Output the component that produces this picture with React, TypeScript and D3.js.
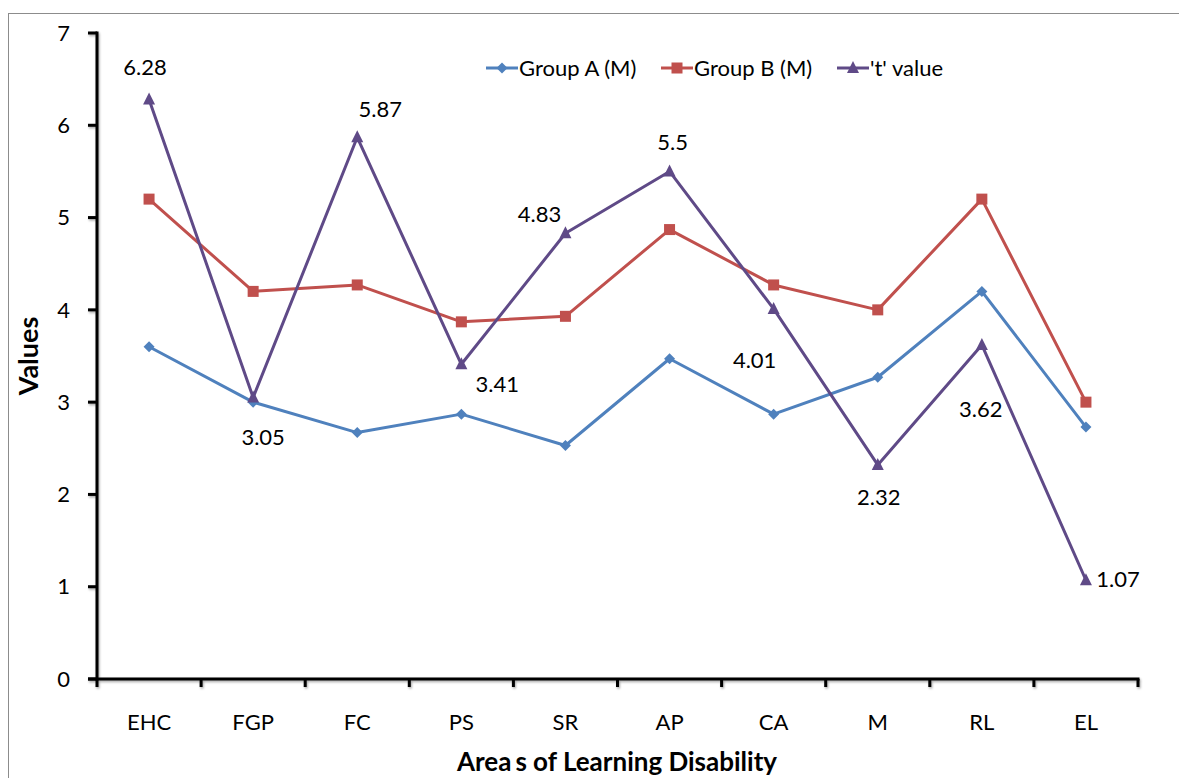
import React from "react";
import * as d3 from "d3";

const categories = ["EHC", "FGP", "FC", "PS", "SR", "AP", "CA", "M", "RL", "EL"];
const groupA = [3.6, 3.0, 2.67, 2.87, 2.53, 3.47, 2.87, 3.27, 4.2, 2.73];
const groupB = [5.2, 4.2, 4.27, 3.87, 3.93, 4.87, 4.27, 4.0, 5.2, 3.0];
const tValues = [6.28, 3.05, 5.87, 3.41, 4.83, 5.5, 4.01, 2.32, 3.62, 1.07];
const yTicks = [0, 1, 2, 3, 4, 5, 6, 7];
const seriesNames = ["Group A (M)", "Group B (M)", "'t' value"];
// label placement offsets (px) relative to the marker
const labelOffsets: [number, number][] = [
  [-4, -24], [10, 47], [23, -20], [36, 28], [-26, -11],
  [3, -21], [-19, 59], [1, 40], [-1, 72], [32, 7],
];

const W = 1179, H = 778;
const left = 97, right = 1138, top = 33, bottom = 679;
const FONT = "Lato, 'Open Sans', sans-serif";
const FS = 22;
const colors = ["#4F81BD", "#C0504D", "#5F4A87"];

function Marker({ kind, x, y, color }: { kind: number; x: number; y: number; color: string }) {
  if (kind === 0) {
    const s = 5.5;
    return <path d={`M${x},${y - s}L${x + s},${y}L${x},${y + s}L${x - s},${y}Z`} fill={color} />;
  }
  if (kind === 1) {
    return <rect x={x - 5.5} y={y - 5.5} width={11} height={11} fill={color} />;
  }
  return <path d={`M${x},${y - 7}L${x + 6},${y + 5}L${x - 6},${y + 5}Z`} fill={color} />;
}

export default function App() {
  const x = d3.scaleBand<string>().domain(categories).range([left, right]);
  const y = d3.scaleLinear().domain([0, 7]).range([bottom, top]);
  const cx = (c: string) => (x(c) as number) + x.bandwidth() / 2;
  const line = d3.line<[number, number]>().x((d) => d[0]).y((d) => d[1]);
  const series = [groupA, groupB, tValues];
  const legendX = [486, 661, 837];
  const legendY = 68;
  const edges = categories.map((c) => x(c) as number).concat([right]);

  return (
    <svg width={W} height={H} style={{ position: "absolute", left: 0, top: 0, background: "#fff" }} fontFamily={FONT}>
      <defs>
        <filter id="sh" x="-5%" y="-5%" width="110%" height="110%">
          <feDropShadow dx="1" dy="1.5" stdDeviation="1" floodColor="#000" floodOpacity="0.35" />
        </filter>
      </defs>
      <rect x={8.5} y={13.5} width={1180} height={800} fill="#fff" stroke="#8c8c8c" strokeWidth={1} />
      {/* gridlines */}
      {yTicks.filter((t) => t > 0).map((t) => (
        <line key={t} x1={left} x2={right} y1={Math.round(y(t)) + 0.5} y2={Math.round(y(t)) + 0.5} stroke="#8a8a8a" strokeWidth={1} filter="url(#sh)" />
      ))}
      {/* axes */}
      <g filter="url(#sh)">
        <line x1={left} x2={left} y1={top - 1.5} y2={bottom + 1.5} stroke="#000" strokeWidth={3} />
        <line x1={left - 9} x2={right + 1.5} y1={bottom} y2={bottom} stroke="#000" strokeWidth={3} />
        {yTicks.map((t) => (
          <line key={t} x1={left - 9} x2={left} y1={y(t)} y2={y(t)} stroke="#000" strokeWidth={3} />
        ))}
        {edges.map((e, i) => (
          <line key={i} x1={e} x2={e} y1={bottom} y2={bottom + 8} stroke="#000" strokeWidth={3} />
        ))}
      </g>
      {yTicks.map((t) => (
        <text key={t} x={left - 27} y={y(t)} dy="0.35em" textAnchor="end" fontSize={FS} fill="#000">{t}</text>
      ))}
      {categories.map((c) => (
        <text key={c} x={cx(c)} y={bottom + 51} textAnchor="middle" fontSize={FS} fill="#000">{c}</text>
      ))}
      <text x={617} y={771} textAnchor="middle" fontSize={26} fontWeight="bold" fill="#000">
        Area<tspan dx={4}>s of Learning Disability</tspan>
      </text>
      <text transform={`translate(38,${(top + bottom) / 2}) rotate(-90)`} textAnchor="middle" fontSize={27} fontWeight="bold" fill="#000">Values</text>
      {/* series */}
      {series.map((vals, si) => {
        const pts = vals.map((v, i) => [cx(categories[i]), y(v)] as [number, number]);
        return (
          <g key={si}>
            <path d={line(pts) || ""} fill="none" stroke={colors[si]} strokeWidth={3} strokeLinejoin="round" />
            {pts.map((p, i) => <Marker key={i} kind={si} x={p[0]} y={p[1]} color={colors[si]} />)}
          </g>
        );
      })}
      {/* data labels for t */}
      {tValues.map((v, i) => (
        <text key={i} x={cx(categories[i]) + labelOffsets[i][0]} y={y(v) + labelOffsets[i][1]} textAnchor="middle" fontSize={FS} fill="#000">{v}</text>
      ))}
      {/* legend */}
      {seriesNames.map((n, i) => (
        <g key={n}>
          <line x1={legendX[i]} x2={legendX[i] + 32} y1={legendY} y2={legendY} stroke={colors[i]} strokeWidth={3} />
          <Marker kind={i} x={legendX[i] + 16} y={legendY} color={colors[i]} />
          <text x={legendX[i] + 33} y={legendY} dy="0.35em" fontSize={FS} fill="#000">{n}</text>
        </g>
      ))}
    </svg>
  );
}
